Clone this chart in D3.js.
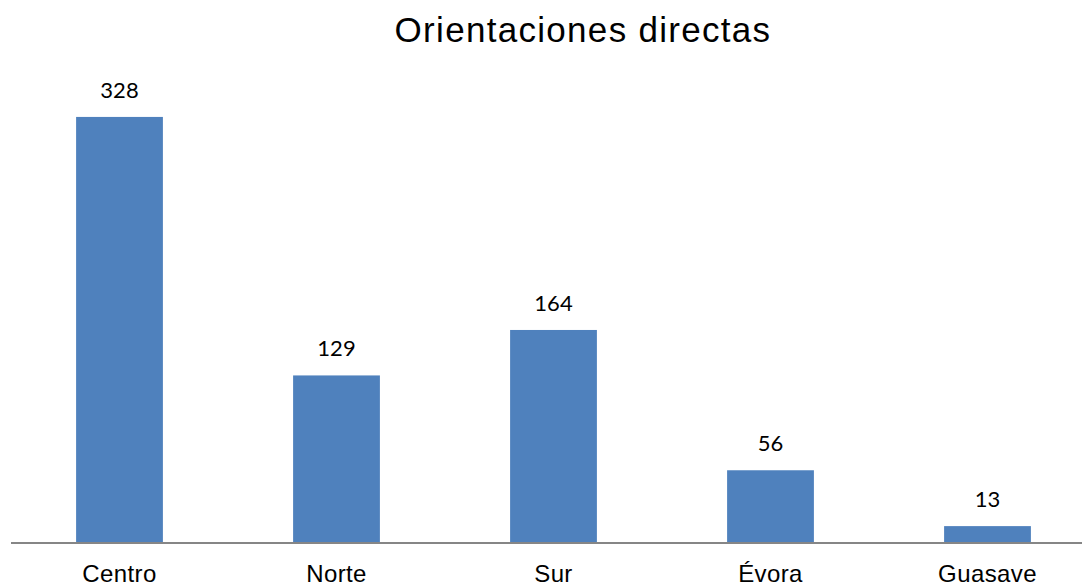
<!DOCTYPE html>
<html>
<head>
<meta charset="utf-8">
<script src="https://cdn.jsdelivr.net/npm/d3@7"></script>
<style>
  html, body { margin: 0; padding: 0; background: #fff; }
  #chart { width: 1082px; height: 588px; }
</style>
</head>
<body>
<div id="chart"></div>
<script>
const titulo = 'Orientaciones directas';
const sedes = ['Centro', 'Norte', 'Sur', 'Évora', 'Guasave'];
const orientaciones = [328, 129, 164, 56, 13];

const width = 1082;
const height = 588;
const baseY = 543;

const svg = d3.select('#chart')
  .append('svg')
  .attr('width', width)
  .attr('height', height);

const x = d3.scaleBand()
  .domain(sedes)
  .range([11, 1096])
  .paddingInner(0.6)
  .paddingOuter(0.3);

const y = d3.scaleLinear()
  .domain([0, 350])
  .range([baseY, baseY - 350 * 1.299]);

// TITULO
svg.append('text')
  .attr('x', 583)
  .attr('y', 42)
  .attr('text-anchor', 'middle')
  .style('font-family', '"Liberation Sans", Arial, sans-serif')
  .style('font-size', '35px')
  .style('letter-spacing', '1.3px')
  .style('fill', '#000')
  .text(titulo);

// BARRAS
svg.selectAll('rect.bar')
  .data(orientaciones)
  .enter()
  .append('rect')
  .attr('class', 'bar')
  .attr('x', (d, i) => x(sedes[i]))
  .attr('y', (d) => y(d))
  .attr('width', x.bandwidth())
  .attr('height', (d) => baseY - y(d))
  .attr('fill', '#4F81BD');

// ETIQUETAS DE VALOR
svg.selectAll('text.valor')
  .data(orientaciones)
  .enter()
  .append('text')
  .attr('class', 'valor')
  .attr('x', (d, i) => x(sedes[i]) + x.bandwidth() / 2)
  .attr('y', (d) => y(d) - 19)
  .attr('text-anchor', 'middle')
  .style('font-family', 'Lato, "Open Sans", sans-serif')
  .style('font-size', '22px')
  .style('fill', '#000')
  .text((d) => d);

// EJE X
const xAxis = d3.axisBottom(x).tickSize(0).tickPadding(22);
const xAxisGroup = svg.append('g')
  .attr('transform', `translate(0,${baseY})`)
  .call(xAxis);

xAxisGroup.select('.domain')
  .attr('d', `M11,0H${width}`)
  .attr('stroke', '#868686')
  .attr('stroke-width', 2);

xAxisGroup.selectAll('text')
  .style('font-family', '"Liberation Sans", Arial, sans-serif')
  .style('font-size', '24px')
  .style('letter-spacing', '0.4px')
  .style('fill', '#000');
</script>
</body>
</html>
